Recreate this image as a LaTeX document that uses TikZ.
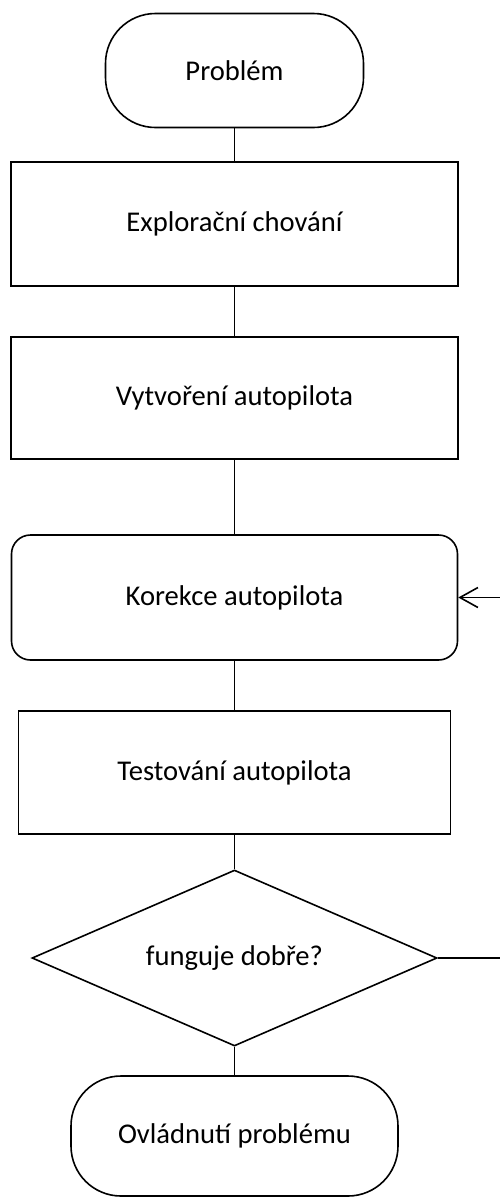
\documentclass[tikz,border=0pt]{standalone}
\usepackage{fontspec}
\setmainfont{Carlito}
\usetikzlibrary{shapes.geometric,arrows.meta}

\tikzset{
  every node/.style={font=\fontsize{28.6}{34}\selectfont,inner sep=0pt},
  flowline/.style={line width=1.6pt},
  stepbox/.style={draw,line width=1.6pt,minimum width=447pt,minimum height=124pt},
  terminal/.style={draw,line width=1.6pt,rounded corners=50pt,minimum height=114pt},
  decision/.style={draw,diamond,shape aspect=2.3,line width=1.6pt,minimum width=405pt,minimum height=176pt}
}

\begin{document}
\begin{tikzpicture}[x=1pt,y=-1pt]
	%%%%% flowchart %%%%%
	\def\xc{234.5}
	\def\xedge{500}

	\useasboundingbox (0,0) rectangle (500,1197);

	\node[terminal,minimum width=258pt] (problem) at (\xc,70.5) {Problém};
	\node[stepbox] (explor) at (\xc,224) {Explorační chování};
	\node[stepbox,minimum height=122pt] (vytvor) at (\xc,398) {Vytvoření autopilota};
	\node[stepbox,rounded corners=19pt,minimum width=446pt,minimum height=125pt] (korekce) at (\xc,597.5) {Korekce autopilota};
	\node[stepbox,minimum width=432pt,minimum height=123pt] (test) at (\xc,772.5) {Testování autopilota};
	\node[decision] (dobre) at (\xc,958) {funguje dobře?};
	\node[terminal,minimum width=327pt,minimum height=120pt] (ovladnuti) at (\xc,1136) {Ovládnutí problému};

	\draw[flowline] (problem) -- (explor);
	\draw[flowline] (explor) -- (vytvor);
	\draw[flowline] (vytvor) -- (korekce);
	\draw[flowline] (korekce) -- (test);
	\draw[flowline] (test) -- (dobre);
	\draw[flowline] (dobre) -- (ovladnuti);

	% zpetna vazba (mimo obrazek)
	\coordinate (ne) at (\xedge,958);
	\coordinate (zpet) at (\xedge,597.5);
	\draw[flowline] (dobre.east) -- (ne);
	\draw[flowline,-{Straight Barb[length=18pt,width=20pt,line width=1.6pt]}] (zpet) -- (korekce.east);
	%%%%% flowchart %%%%%
\end{tikzpicture}
\end{document}
